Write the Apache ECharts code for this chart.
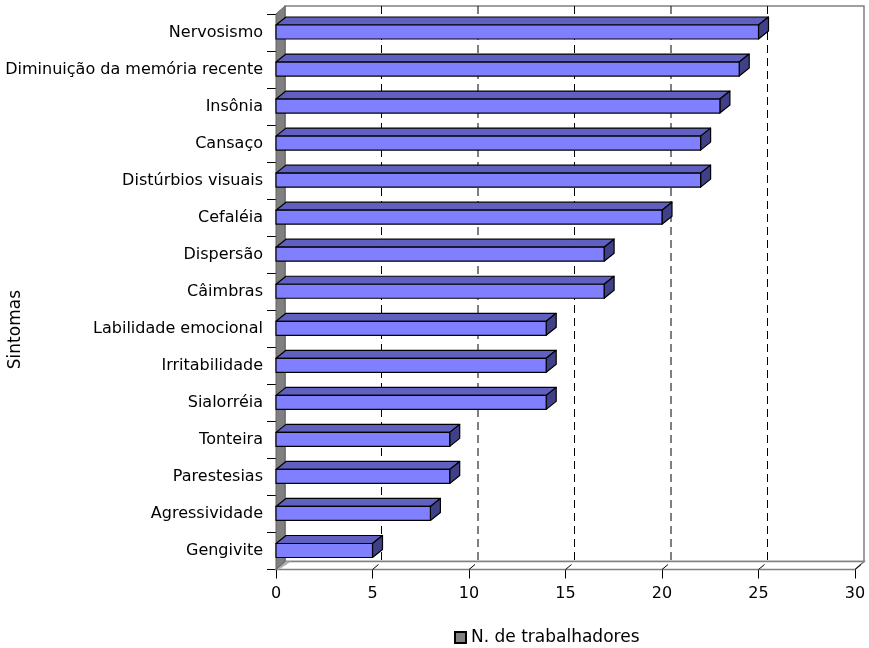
<!DOCTYPE html>
<html>
<head>
<meta charset="utf-8">
<script src="https://cdn.jsdelivr.net/npm/echarts@6/dist/echarts.min.js"></script>
<style>
  html, body { margin: 0; padding: 0; background: #fff; }
  #chart { width: 869px; height: 648px; }
</style>
</head>
<body>
<div id="chart"></div>
<script>
// Symptoms reported by workers (count per symptom)
const sintomas = [
  'Nervosismo', 'Diminuição da memória recente', 'Insônia', 'Cansaço',
  'Distúrbios visuais', 'Cefaléia', 'Dispersão', 'Câimbras',
  'Labilidade emocional', 'Irritabilidade', 'Sialorréia', 'Tonteira',
  'Parestesias', 'Agressividade', 'Gengivite'
];
const trabalhadores = [25, 24, 23, 22, 22, 20, 17, 17, 14, 14, 14, 9, 9, 8, 5];
const xTicks = [0, 5, 10, 15, 20, 25, 30];
const serieNome = 'N. de trabalhadores';
const eixoY = 'Sintomas';

const FONT = 'DejaVu Sans';
// depth of the pseudo-3D box and of the bars
const WALL_DX = 9, WALL_DY = -8;
const BAR_DX = 10, BAR_DY = -8, BAR_H = 14;

const chart = echarts.init(document.getElementById('chart'), null, { renderer: 'canvas' });

function renderWalls(params, api) {
  const cs = params.coordSys;
  const x0 = cs.x, x1 = cs.x + cs.width;
  const yT = cs.y, yB = cs.y + cs.height;
  const children = [];
  // back wall
  children.push({
    type: 'polygon',
    shape: { points: [[x0 + WALL_DX, yT + WALL_DY], [x1 + WALL_DX, yT + WALL_DY], [x1 + WALL_DX, yB + WALL_DY], [x0 + WALL_DX, yB + WALL_DY]] },
    style: { fill: '#ffffff', stroke: '#808080', lineWidth: 1.5 }
  });
  // floor
  children.push({
    type: 'polygon',
    shape: { points: [[x0, yB], [x0 + WALL_DX, yB + WALL_DY], [x1 + WALL_DX, yB + WALL_DY], [x1, yB]] },
    style: { fill: '#ffffff', stroke: '#808080', lineWidth: 1.5 }
  });
  // shadow on the floor near the side wall
  children.push({
    type: 'polygon',
    shape: { points: [[x0, yB], [x0 + WALL_DX, yB + WALL_DY], [x0 + WALL_DX + 6, yB + WALL_DY], [x0 + 3, yB]] },
    style: { fill: '#b0b0b0' }
  });
  // left side wall
  children.push({
    type: 'polygon',
    shape: { points: [[x0, yT], [x0 + WALL_DX, yT + WALL_DY], [x0 + WALL_DX, yB + WALL_DY], [x0, yB]] },
    style: { fill: '#808080', stroke: '#606060', lineWidth: 1 }
  });
  // dashed grid lines on the back wall and slanted ticks on the floor
  xTicks.forEach(function (v) {
    const px = api.coord([v, 0])[0];
    if (v > xTicks[0] && v < xTicks[xTicks.length - 1]) {
      children.push({
        type: 'line',
        shape: { x1: px + WALL_DX, y1: yT + WALL_DY, x2: px + WALL_DX, y2: yB + WALL_DY },
        style: { stroke: '#000000', lineWidth: 1, lineDash: [8, 5] }
      });
    }
    if (v > xTicks[0]) {
      children.push({
        type: 'line',
        shape: { x1: px, y1: yB, x2: px + 6, y2: yB - 5 },
        style: { stroke: '#000000', lineWidth: 1 }
      });
    }
  });
  return { type: 'group', children: children };
}

function renderBar(params, api) {
  const v = api.value(0);
  const cat = api.value(1);
  const p0 = api.coord([0, cat]);
  const p1 = api.coord([v, cat]);
  const x0 = p0[0], x1 = p1[0];
  const top = p0[1] - BAR_H / 2 - 0.5;
  const bot = top + BAR_H;
  const edge = { stroke: '#000000', lineWidth: 1.2, lineJoin: 'round' };
  return {
    type: 'group',
    children: [
      {
        type: 'polygon',
        shape: { points: [[x0, top], [x1, top], [x1 + BAR_DX, top + BAR_DY], [x0 + BAR_DX, top + BAR_DY]] },
        style: Object.assign({ fill: '#6060c0' }, edge)
      },
      {
        type: 'polygon',
        shape: { points: [[x1, top], [x1 + BAR_DX, top + BAR_DY], [x1 + BAR_DX, bot + BAR_DY], [x1, bot]] },
        style: Object.assign({ fill: '#404088' }, edge)
      },
      {
        type: 'rect',
        shape: { x: x0, y: top, width: x1 - x0, height: BAR_H },
        style: Object.assign({ fill: '#8080ff' }, edge)
      }
    ]
  };
}

chart.setOption({
  animation: false,
  backgroundColor: '#ffffff',
  textStyle: { fontFamily: FONT },
  grid: {
    left: 276, right: 14, top: 14, bottom: 78.5,
    containLabel: false,
    outerBoundsMode: 'none'
  },
  legend: {
    data: [serieNome],
    left: 449, top: 624,
    icon: 'rect',
    itemWidth: 11, itemHeight: 11, itemGap: 8,
    textStyle: { fontFamily: FONT, fontSize: 17, color: '#000' }
  },
  graphic: [
    {
      type: 'text',
      left: 7, top: 290,
      rotation: Math.PI / 2,
      style: { text: eixoY, fontFamily: FONT, fontSize: 17, fill: '#000' }
    }
  ],
  xAxis: {
    type: 'value',
    min: xTicks[0], max: xTicks[xTicks.length - 1], interval: 5,
    axisLine: { show: true, lineStyle: { color: '#000', width: 1 } },
    axisTick: { show: true, length: 9, lineStyle: { color: '#000' } },
    axisLabel: { fontFamily: FONT, fontSize: 16, color: '#000', margin: 16 },
    splitLine: { show: false }
  },
  yAxis: {
    type: 'category',
    data: sintomas,
    inverse: true,
    axisLine: { show: true, lineStyle: { color: '#000', width: 1 } },
    axisTick: { show: true, length: 9, lineStyle: { color: '#000' } },
    axisLabel: { fontFamily: FONT, fontSize: 16, color: '#000', margin: 13 },
    splitLine: { show: false }
  },
  series: [
    {
      type: 'custom',
      name: '__walls',
      silent: true,
      z: 1,
      renderItem: renderWalls,
      data: [[0, 0]],
      encode: { x: 0, y: 1 }
    },
    {
      type: 'custom',
      name: serieNome,
      z: 2,
      itemStyle: { color: '#808080', borderColor: '#000', borderWidth: 1.5 },
      renderItem: renderBar,
      data: trabalhadores.map(function (v, i) { return [v, i]; }),
      encode: { x: 0, y: 1 }
    }
  ]
});
</script>
</body>
</html>
